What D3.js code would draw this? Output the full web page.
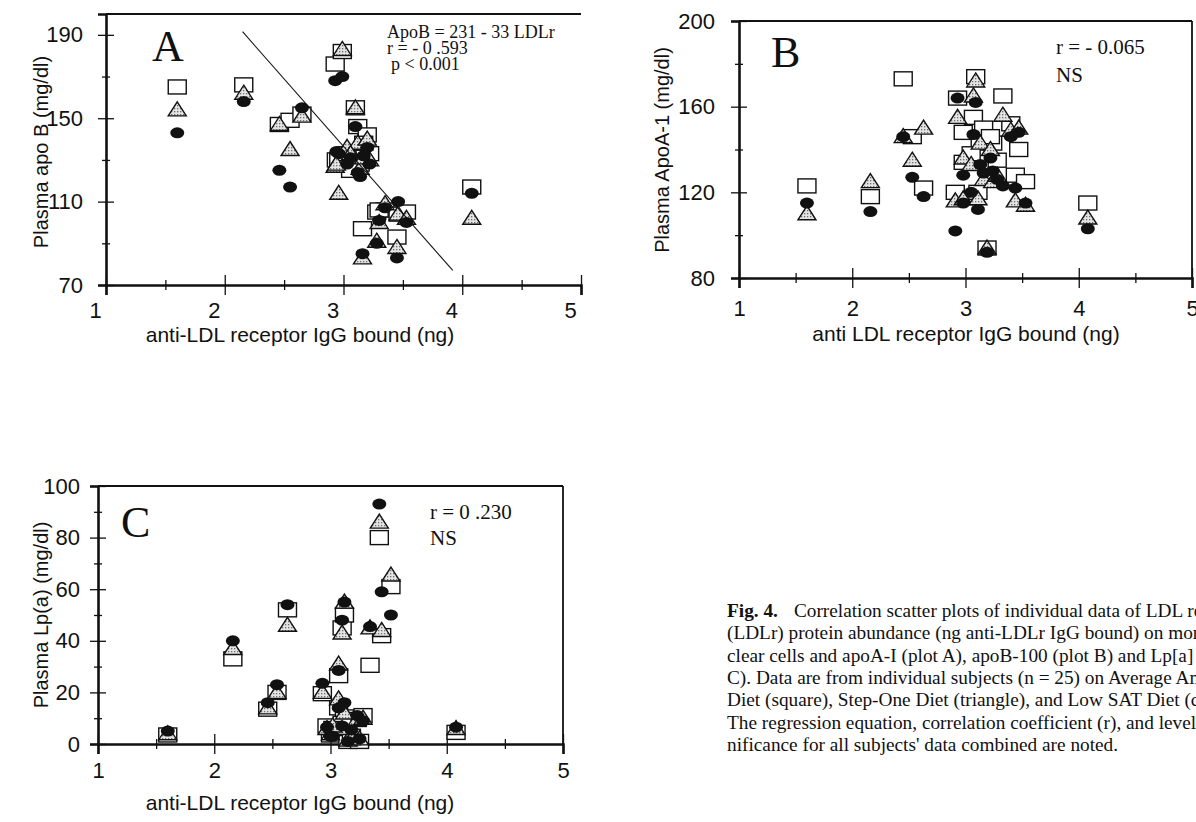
<!DOCTYPE html>
<html>
<head>
<meta charset="utf-8">
<script src="https://cdn.jsdelivr.net/npm/d3@7"></script>
<style>
  body { margin: 0; background: #fff; overflow: hidden; }
  svg { display: block; }
</style>
</head>
<body>
<svg id="chart" width="1196" height="822"></svg>
<script>
// ---- data ----
// per subject: LDLr (ng IgG bound) and values on the three diets
// square = Average American, triangle = Step-One, circle = Low SAT

// Panel A: apo B
const ldlrA    = [1.60, 2.16, 2.46, 2.55, 2.65, 2.93, 2.99, 2.94, 2.96, 3.03, 3.10, 3.12, 3.20, 3.22, 3.14, 3.16, 3.28, 3.35, 3.45, 3.46, 3.53, 4.08, 3.06, 3.17, 3.30];
const apoBSq   = [165, 166, 147, 149, 152, 176, 182, 130, 130, 133, 155, 146, 142, 133, 128,  97, 105, 106,  93, 104, 105, 117, 125, 138, 106];
const apoBTri  = [154, 162, 147, 135, 151, 127, 183, 128, 114, 136, 155, 138, 140, 130, 126,  83,  91, 109,  88, 104, 102, 102, 133, 131, 100];
const apoBCirc = [143, 158, 125, 117, 155, 168, 170, 134, 133, 128, 146, 124, 136, 128, 122,  85,  90, 107,  83, 110, 100, 114, 131, 132, 101];
const regLineA = [[2.15, 191.5], [3.92, 77]];

// Panel B: apoA-1
const ldlrB    = [1.60, 2.16, 2.45, 2.53, 2.63, 2.91, 2.93, 2.98, 2.98, 3.09, 3.07, 3.11, 3.13, 3.19, 3.16, 3.24, 3.33, 3.40, 3.44, 3.53, 3.22, 3.05, 3.28, 3.47, 4.08];
const apoASq   = [123, 118, 173, 146, 122, 120, 164, 148, 134, 174, 155, 120, 143,  94, 150, 143, 165, 152, 128, 125, 146, 138, 135, 140, 115];
const apoATri  = [110, 125, 146, 135, 150, 116, 155, 117, 136, 172, 165, 117, 143,  94, 126, 125, 156, 149, 116, 114, 140, 133, 128, 150, 108];
const apoACirc = [115, 111, 146, 127, 118, 102, 164, 128, 115, 162, 147, 112, 133,  92, 129, 130, 123, 146, 122, 115, 136, 120, 126, 148, 103];

// Panel C: Lp(a)
const ldlrC    = [1.60, 2.16, 2.46, 2.54, 2.63, 2.93, 2.97, 3.00, 3.07, 3.10, 3.07, 3.12, 3.15, 3.23, 3.18, 3.12, 3.34, 3.44, 3.52, 3.42, 4.08, 3.25, 3.10, 3.02, 3.28];
const lpaSq    = [3.5, 33, 13.5, 20, 52, 19.5, 7, 3.5, 26.5, 45, 14, 10.5, 1, 9.5, 3, 50, 30.5, 42, 61, 80, 4.5, 1, 8, 6, 11];
const lpaTri   = [4, 37, 14, 20, 46, 20, 6, 4, 31, 43, 17.5, 12, 1.5, 9.5, 2, 55, 45, 44, 65.5, 86, 6, 2, 6, 7, 10];
const lpaCirc  = [5, 40, 16, 23, 54, 23.5, 6.5, 3, 28.5, 48, 14, 16, 1, 11, 5.5, 55, 45.5, 59, 50, 93, 6.5, 2, 7, 3, 9];

const xTicks = [1, 1.5, 2, 2.5, 3, 3.5, 4, 4.5, 5];
const apoBTicks = [70, 90, 110, 130, 150, 170, 190];
const apoATicks = [80, 100, 120, 140, 160, 180, 200];
const lpaTicks  = [0, 10, 20, 30, 40, 50, 60, 70, 80, 90, 100];

const captionLines = [
  "Correlation scatter plots of individual data of LDL receptor",
  "(LDLr) protein abundance (ng anti-LDLr IgG bound) on mono-",
  "clear cells and apoA-I (plot A), apoB-100 (plot B) and Lp[a] (plot",
  "C). Data are from individual subjects (n = 25) on Average American",
  "Diet (square), Step-One Diet (triangle), and Low SAT Diet (circle).",
  "The regression equation, correlation coefficient (r), and level of sig-",
  "nificance for all subjects' data combined are noted."
];

const SANS = "'Liberation Sans', Arial, sans-serif";
const SERIF = "'Liberation Serif', 'Times New Roman', serif";

const svg = d3.select("#chart");

// stippled fill used by the triangles
const pat = svg.append("defs").append("pattern")
  .attr("id", "stipple")
  .attr("width", 3).attr("height", 3)
  .attr("patternUnits", "userSpaceOnUse");
pat.append("rect").attr("width", 3).attr("height", 3).attr("fill", "#e4e4e4");
pat.append("rect").attr("width", 1.3).attr("height", 1.3).attr("fill", "#6e6e6e");

function drawPanel(p) {
  const g = svg.append("g");
  const x = d3.scaleLinear().domain([1, 5]).range([p.left, p.right]);
  const y = d3.scaleLinear().domain(p.yDomain).range([p.bottom, p.top]);

  // frame (top, and right if present)
  g.append("line")
    .attr("x1", p.left).attr("x2", p.right)
    .attr("y1", p.top).attr("y2", p.top)
    .attr("stroke", "#111").attr("stroke-width", 1.8);
  if (p.rightBorder) {
    g.append("line")
      .attr("x1", p.right).attr("x2", p.right)
      .attr("y1", p.top).attr("y2", p.bottom)
      .attr("stroke", "#111").attr("stroke-width", 1.8);
  }

  // x axis
  const xa = g.append("g")
    .attr("transform", `translate(0,${p.bottom})`)
    .call(d3.axisBottom(x)
      .tickValues(xTicks)
      .tickFormat(d => Number.isInteger(d) ? d : "")
      .tickSizeOuter(0)
      .tickSize(10)
      .tickPadding(p.xPad));
  xa.select(".domain").attr("stroke", "#111").attr("stroke-width", 2.6);
  xa.selectAll(".tick line")
    .attr("y1", d => Number.isInteger(d) ? -10 : -5)
    .attr("y2", d => Number.isInteger(d) ? 10 : 5)
    .attr("stroke", "#111").attr("stroke-width", 1.3);
  xa.selectAll(".tick text")
    .attr("dx", p.xLabelShift)
    .style("font-family", SANS).style("font-size", "22px").attr("fill", "#111");

  // y axis
  const ya = g.append("g")
    .attr("transform", `translate(${p.left},0)`)
    .call(d3.axisLeft(y)
      .tickValues(p.yTicks)
      .tickFormat(d => p.yLabels.includes(d) ? d : "")
      .tickSizeOuter(0)
      .tickSize(8)
      .tickPadding(p.yPad));
  ya.select(".domain").attr("stroke", "#111").attr("stroke-width", 2.6);
  ya.selectAll(".tick line")
    .attr("x1", d => p.yLabels.includes(d) ? -8 : -4)
    .attr("x2", d => p.yLabels.includes(d) ? 8 : 4)
    .attr("stroke", "#111").attr("stroke-width", 1.3);
  ya.selectAll(".tick text")
    .style("font-family", SANS).style("font-size", "22px").attr("fill", "#111");

  // axis titles
  g.append("text")
    .attr("x", p.xTitle[0]).attr("y", p.xTitle[1])
    .attr("text-anchor", "middle")
    .style("font-family", SANS).style("font-size", "21px").attr("fill", "#111")
    .text(p.xLabel);
  g.append("text")
    .attr("transform", `translate(${p.yTitle[0]},${p.yTitle[1]}) rotate(-90)`)
    .attr("text-anchor", "middle")
    .style("font-family", SANS).style("font-size", "20px").attr("fill", "#111")
    .text(p.yLabel);

  // panel letter
  g.append("text")
    .attr("x", p.letterPos[0]).attr("y", p.letterPos[1])
    .style("font-family", SERIF).style("font-size", "44px").attr("fill", "#111")
    .text(p.letter);

  // annotation block (one text, one tspan per line)
  const note = g.append("text")
    .style("font-family", SERIF).style("font-size", p.noteSize + "px").attr("fill", "#111");
  p.notes.forEach((t, i) => {
    note.append("tspan")
      .attr("x", p.notePos[0] + (t.indent || 0)).attr("y", p.notePos[1] + i * p.noteStep)
      .text(t.text);
  });

  const pts = (ys) => p.xs.map((v, i) => ({ x: v, y: ys[i] }));

  // squares (drawn first), then triangles, then filled circles on top
  g.append("g").selectAll("rect")
    .data(pts(p.sq)).join("rect")
    .attr("x", d => x(d.x) - 9).attr("y", d => y(d.y) - 7)
    .attr("width", 18).attr("height", 14)
    .attr("fill", "#fff").attr("stroke", "#111").attr("stroke-width", 1.4);

  g.append("g").selectAll("path")
    .data(pts(p.tri)).join("path")
    .attr("d", d => {
      const cx = x(d.x), cy = y(d.y);
      return `M${cx},${cy - 8}L${cx + 9},${cy + 6}L${cx - 9},${cy + 6}Z`;
    })
    .attr("fill", "url(#stipple)").attr("stroke", "#111").attr("stroke-width", 1.4)
    .attr("stroke-linejoin", "miter");

  g.append("g").selectAll("ellipse")
    .data(pts(p.circ)).join("ellipse")
    .attr("cx", d => x(d.x)).attr("cy", d => y(d.y))
    .attr("rx", 7).attr("ry", 5.5)
    .attr("fill", "#111");

  if (p.regLine) {
    g.append("line")
      .attr("x1", x(p.regLine[0][0])).attr("y1", y(p.regLine[0][1]))
      .attr("x2", x(p.regLine[1][0])).attr("y2", y(p.regLine[1][1]))
      .attr("stroke", "#111").attr("stroke-width", 1.1);
  }
}

drawPanel({
  left: 106, right: 581, top: 14, bottom: 285,
  yDomain: [70, 200], yTicks: apoBTicks, yLabels: [70, 110, 150, 190],
  xPad: 7, yPad: 15, xLabelShift: -11, rightBorder: false,
  xs: ldlrA, sq: apoBSq, tri: apoBTri, circ: apoBCirc, regLine: regLineA,
  xLabel: "anti-LDL receptor IgG bound (ng)", xTitle: [300, 342],
  yLabel: "Plasma apo B (mg/dl)", yTitle: [48, 152],
  letter: "A", letterPos: [152, 61],
  notes: [{ text: "ApoB = 231 - 33 LDLr" }, { text: "r = - 0 .593" }, { text: "p < 0.001", indent: 4 }],
  notePos: [387, 38], noteStep: 16, noteSize: 18
});

drawPanel({
  left: 739, right: 1192, top: 21, bottom: 278,
  yDomain: [80, 200], yTicks: apoATicks, yLabels: [80, 120, 160, 200],
  xPad: 12, yPad: 16, xLabelShift: 0, rightBorder: true,
  xs: ldlrB, sq: apoASq, tri: apoATri, circ: apoACirc,
  xLabel: "anti LDL receptor IgG bound (ng)", xTitle: [966, 341],
  yLabel: "Plasma ApoA-1 (mg/dl)", yTitle: [669, 150],
  letter: "B", letterPos: [771, 67],
  notes: [{ text: "r = - 0.065" }, { text: "NS" }],
  notePos: [1056, 54], noteStep: 28, noteSize: 21
});

drawPanel({
  left: 98, right: 563, top: 486, bottom: 744,
  yDomain: [0, 100], yTicks: lpaTicks, yLabels: [0, 20, 40, 60, 80, 100],
  xPad: 8, yPad: 10, xLabelShift: 0, rightBorder: true,
  xs: ldlrC, sq: lpaSq, tri: lpaTri, circ: lpaCirc,
  xLabel: "anti-LDL receptor IgG bound (ng)", xTitle: [300, 810],
  yLabel: "Plasma Lp(a) (mg/dl)", yTitle: [48, 615],
  letter: "C", letterPos: [121, 537],
  notes: [{ text: "r = 0 .230" }, { text: "NS" }],
  notePos: [430, 519], noteStep: 26, noteSize: 21
});

// caption (clipped by the right edge, as in the scan)
const cap = svg.append("text")
  .style("font-family", SERIF).style("font-size", "19.3px").attr("fill", "#111");
captionLines.forEach((line, i) => {
  const t = cap.append("tspan").attr("x", 727).attr("y", 617 + i * 22.3);
  if (i === 0) {
    t.append("tspan").style("font-weight", "bold").text("Fig. 4.");
    t.append("tspan").attr("dx", 16).text(line);
  } else {
    t.text(line);
  }
});
</script>
</body>
</html>
